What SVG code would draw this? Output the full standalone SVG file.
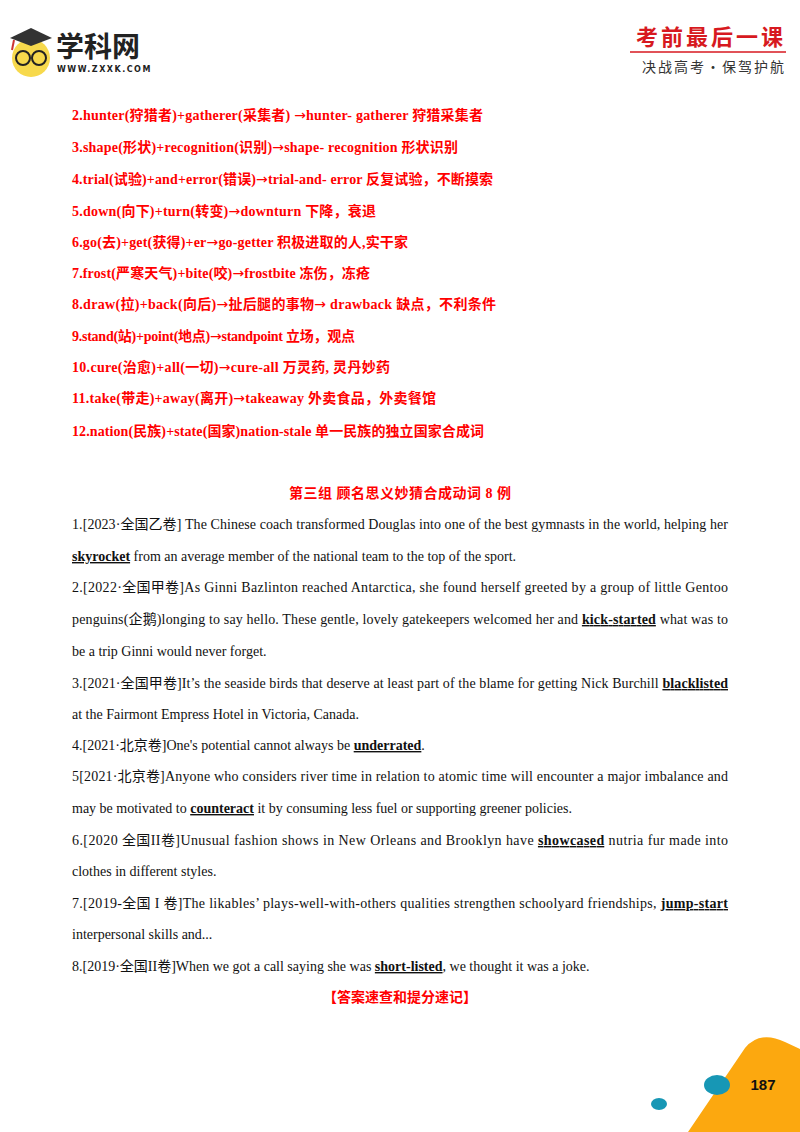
<svg xmlns="http://www.w3.org/2000/svg" width="800" height="1132" viewBox="0 0 800 1132">
<style>
.r{font-family:"Liberation Serif","Noto Sans CJK SC",serif;font-size:14px;font-weight:bold;fill:#ff0000}
.b{font-family:"Liberation Serif","Noto Sans CJK SC",serif;font-size:14px;fill:#111}
.u{font-weight:bold;text-decoration:underline}
.a{font-family:"DejaVu Sans",sans-serif;font-weight:normal}
</style>
<rect width="800" height="1132" fill="#fff"/>
<g id="logo">
<circle cx="31" cy="58" r="19" fill="#f7d94c"/>
<polygon points="10,38 31,28 52,38 31,46" fill="#333"/>
<line x1="14" y1="40" x2="12" y2="50" stroke="#c33" stroke-width="2"/>
<circle cx="23" cy="58" r="7" fill="none" stroke="#222" stroke-width="2"/>
<circle cx="39" cy="58" r="7" fill="none" stroke="#222" stroke-width="2"/>
<text x="56" y="57" font-family="Noto Sans CJK SC,sans-serif" font-size="28" font-weight="bold" fill="#222">学科网</text>
<text x="57" y="72" font-family="DejaVu Sans,sans-serif" font-size="8" font-weight="bold" fill="#222" letter-spacing="1.5">WWW.ZXXK.COM</text>
</g>
<g id="brand">
<text x="786" y="45" text-anchor="end" font-family="Noto Sans CJK SC,serif" font-size="22" font-weight="bold" fill="#d71920" letter-spacing="3">考前最后一课</text>
<line x1="630" y1="52" x2="786" y2="52" stroke="#d71920" stroke-width="1.5"/>
<text x="786" y="72" text-anchor="end" font-family="Noto Sans CJK SC,sans-serif" font-size="14" fill="#333" letter-spacing="2">决战高考·保驾护航</text>
</g>
<g id="list">
<text class="r" x="72" y="120" textLength="411" lengthAdjust="spacing">2.hunter(狩猎者)+gatherer(采集者) <tspan class="a">→</tspan>hunter- gatherer  狩猎采集者</text>
<text class="r" x="72" y="152" textLength="386" lengthAdjust="spacing">3.shape(形状)+recognition(识别)<tspan class="a">→</tspan>shape- recognition  形状识别</text>
<text class="r" x="72" y="184" textLength="421" lengthAdjust="spacing">4.trial(试验)+and+error(错误)<tspan class="a">→</tspan>trial-and- error 反复试验，不断摸索</text>
<text class="r" x="72" y="216" textLength="304" lengthAdjust="spacing">5.down(向下)+turn(转变)<tspan class="a">→</tspan>downturn  下降，衰退</text>
<text class="r" x="72" y="247" textLength="336" lengthAdjust="spacing">6.go(去)+get(获得)+er<tspan class="a">→</tspan>go-getter 积极进取的人,实干家</text>
<text class="r" x="72" y="278" textLength="298" lengthAdjust="spacing">7.frost(严寒天气)+bite(咬)<tspan class="a">→</tspan>frostbite 冻伤，冻疮</text>
<text class="r" x="72" y="309" textLength="424" lengthAdjust="spacing">8.draw(拉)+back(向后)<tspan class="a">→</tspan>扯后腿的事物<tspan class="a">→</tspan> drawback  缺点，不利条件</text>
<text class="r" x="72" y="341" textLength="283" lengthAdjust="spacing">9.stand(站)+point(地点)<tspan class="a">→</tspan>standpoint  立场，观点</text>
<text class="r" x="72" y="372" textLength="318" lengthAdjust="spacing">10.cure(治愈)+all(一切)<tspan class="a">→</tspan>cure-all  万灵药, 灵丹妙药</text>
<text class="r" x="72" y="403" textLength="364" lengthAdjust="spacing">11.take(带走)+away(离开)<tspan class="a">→</tspan>takeaway  外卖食品，外卖餐馆</text>
<text class="r" x="72" y="436" textLength="412" lengthAdjust="spacing">12.nation(民族)+state(国家)nation-stale 单一民族的独立国家合成词</text>
<text class="r" x="400" y="498" text-anchor="middle" textLength="222" lengthAdjust="spacing">第三组  顾名思义妙猜合成动词  8 例</text>
</g>
<g id="body">
<text class="b" x="72" y="529" textLength="656" lengthAdjust="spacing">1.[2023·全国乙卷] The Chinese coach transformed Douglas into one of the best gymnasts in the world, helping her</text>
<text class="b" x="72" y="561"><tspan class="u">skyrocket</tspan> from an average member of the national team to the top of the sport.</text>
<text class="b" x="72" y="592" textLength="656" lengthAdjust="spacing">2.[2022·全国甲卷]As Ginni Bazlinton reached Antarctica, she found herself greeted by a group of little Gentoo</text>
<text class="b" x="72" y="624" textLength="656" lengthAdjust="spacing">penguins(企鹅)longing to say hello. These gentle, lovely gatekeepers welcomed her and <tspan class="u">kick-started</tspan> what was to</text>
<text class="b" x="72" y="656">be a trip Ginni would never forget.</text>
<text class="b" x="72" y="688" textLength="656" lengthAdjust="spacing">3.[2021·全国甲卷]It’s the seaside birds that deserve at least part of the blame for getting Nick Burchill <tspan class="u">blacklisted</tspan></text>
<text class="b" x="72" y="719">at the Fairmont Empress Hotel in Victoria, Canada.</text>
<text class="b" x="72" y="750">4.[2021·北京卷]One's potential cannot always be <tspan class="u">underrated</tspan>.</text>
<text class="b" x="72" y="781" textLength="656" lengthAdjust="spacing">5[2021·北京卷]Anyone who considers river time in relation to atomic time will encounter a major imbalance and</text>
<text class="b" x="72" y="813">may be motivated to <tspan class="u">counteract</tspan> it by consuming less fuel or supporting greener policies.</text>
<text class="b" x="72" y="845" textLength="656" lengthAdjust="spacing">6.[2020 全国II卷]Unusual fashion shows in New Orleans and Brooklyn have <tspan class="u">showcased</tspan> nutria fur made into</text>
<text class="b" x="72" y="876">clothes in different styles.</text>
<text class="b" x="72" y="908" textLength="656" lengthAdjust="spacing">7.[2019-全国 I 卷]The likables’ plays-well-with-others qualities strengthen schoolyard friendships, <tspan class="u">jump-start</tspan></text>
<text class="b" x="72" y="939">interpersonal skills and...</text>
<text class="b" x="72" y="971">8.[2019·全国II卷]When we got a call saying she was <tspan class="u">short-listed</tspan>, we thought it was a joke.</text>
<text class="r" x="400" y="1002" text-anchor="middle">【答案速查和提分速记】</text>
</g>
<g id="footer">
<path d="M688,1132 L745,1048 Q760,1030 785,1042 L800,1049 L800,1132 Z" fill="#fca80f"/>
<ellipse cx="717" cy="1085" rx="13" ry="10" fill="#1797b5"/>
<ellipse cx="659" cy="1104" rx="8" ry="6" fill="#1797b5"/>
<text x="763" y="1090" text-anchor="middle" font-family="Liberation Sans,sans-serif" font-size="15" font-weight="bold" fill="#111">187</text>
</g>
</svg>
